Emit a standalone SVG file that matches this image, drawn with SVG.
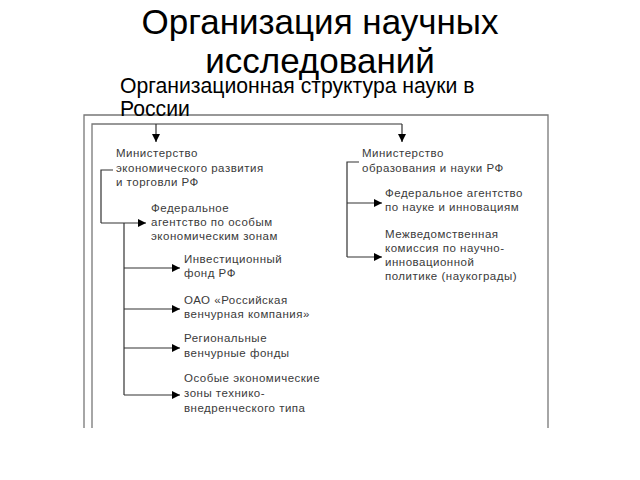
<svg xmlns="http://www.w3.org/2000/svg" width="640" height="480" viewBox="0 0 640 480">
<defs>
<marker id="ah" viewBox="0 0 10 10" refX="10" refY="5" markerWidth="9" markerHeight="8" markerUnits="userSpaceOnUse" orient="auto">
<path d="M0,0 L10,5 L0,10 z" fill="#000"/>
</marker>
<style>
.t{font-family:"Liberation Sans",Arial,sans-serif;fill:#000}
.n{font-family:"Liberation Sans",Arial,sans-serif;font-size:11.5px;fill:#3a3a3a;letter-spacing:0.5px}
.f{fill:none;stroke:#777;stroke-width:1.3}
.c{fill:none;stroke:#333;stroke-width:1.2}
.a{fill:none;stroke:#333;stroke-width:1.2;marker-end:url(#ah)}
</style>
</defs>
<rect width="640" height="480" fill="#fff"/>
<text class="t" x="320" y="34" font-size="35" text-anchor="middle">Организация научных</text>
<text class="t" x="320" y="73" font-size="35" text-anchor="middle">исследований</text>
<g id="frame">
<path class="f" d="M84,428 V115 H548 V428"/>
<path class="f" d="M92,428 V124 H402"/>
</g>
<text class="t" x="120" y="93" font-size="21.2">Организационная структура науки в</text>
<text class="t" x="120" y="116" font-size="21.2">России</text>
<g id="connectors">
<path class="a" d="M156,124 V142"/>
<path class="a" d="M402,124 V142"/>
<path class="c" d="M113,170 H101 V223"/>
<path class="a" d="M101,223 H146"/>
<path class="c" d="M124,223 V395"/>
<path class="a" d="M124,268 H180"/>
<path class="a" d="M124,309 H180"/>
<path class="a" d="M124,348 H180"/>
<path class="a" d="M124,395 H180"/>
<path class="c" d="M359,162 H347 V257"/>
<path class="a" d="M347,203 H382"/>
<path class="a" d="M347,257 H382"/>
</g>
<g id="n1"><text class="n" x="116" y="157">Министерство</text><text class="n" x="116" y="172">экономического развития</text><text class="n" x="116" y="186">и торговли РФ</text></g>
<g id="n2"><text class="n" x="151" y="212">Федеральное</text><text class="n" x="151" y="226">агентство по особым</text><text class="n" x="151" y="240">экономическим зонам</text></g>
<g id="n3"><text class="n" x="184" y="263">Инвестиционный</text><text class="n" x="184" y="277">фонд РФ</text></g>
<g id="n4"><text class="n" x="184" y="304">ОАО «Российская</text><text class="n" x="184" y="318">венчурная компания»</text></g>
<g id="n5"><text class="n" x="184" y="342">Региональные</text><text class="n" x="184" y="357">венчурные фонды</text></g>
<g id="n6"><text class="n" x="184" y="382">Особые экономические</text><text class="n" x="184" y="397">зоны технико-</text><text class="n" x="184" y="412">внедренческого типа</text></g>
<g id="n7"><text class="n" x="362" y="157">Министерство</text><text class="n" x="362" y="172">образования и науки РФ</text></g>
<g id="n8"><text class="n" x="385" y="197">Федеральное агентство</text><text class="n" x="385" y="211">по науке и инновациям</text></g>
<g id="n9"><text class="n" x="385" y="238">Межведомственная</text><text class="n" x="385" y="252">комиссия по научно-</text><text class="n" x="385" y="266">инновационной</text><text class="n" x="385" y="280">политике (наукограды)</text></g>
</svg>
